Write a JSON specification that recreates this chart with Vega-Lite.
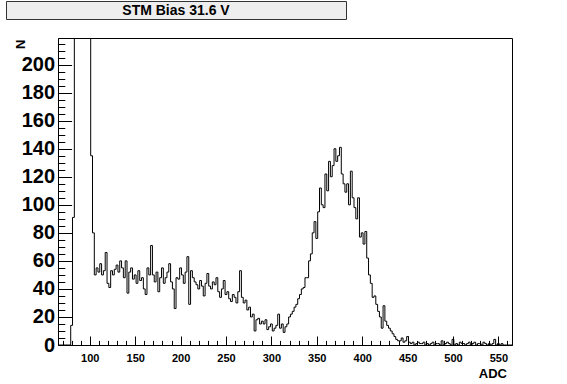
{
"$schema": "https://vega.github.io/schema/vega-lite/v6.json",
"padding": {"left": 5, "top": 0, "right": 0, "bottom": 0},
"background": "white",
"spacing": 12,
"config": {"font": "Liberation Sans"},
"vconcat": [
{
"width": 340, "height": 18,
"view": {"fill": "#eeeeee", "stroke": "#333333", "strokeWidth": 1},
"data": {"values": [{"label": "STM Bias 31.6 V"}]},
"mark": {"type": "text", "font": "Liberation Sans", "fontWeight": "bold", "fontSize": 14, "color": "#000000", "dy": 1},
"encoding": {"text": {"field": "label", "type": "nominal"}}
},
{
"spacing": 0,
"hconcat": [
{
"width": 1, "height": 1,
"view": {"stroke": null},
"data": {"values": [{"label": ""}]},
"mark": {"type": "text"},
"encoding": {"text": {"field": "label", "type": "nominal"}}
},
{
"width": 454, "height": 307,
"view": {"stroke": "#000000", "strokeWidth": 1},
"data": {"values": [
{"adc":65,"n":0},{"adc":67,"n":0},{"adc":69,"n":0},{"adc":71,"n":0},{"adc":73,"n":0},{"adc":75,"n":0},{"adc":77,"n":0},{"adc":79,"n":14},{"adc":81,"n":91},{"adc":83,"n":400},{"adc":85,"n":900},{"adc":87,"n":1200},{"adc":89,"n":1100},{"adc":91,"n":950},{"adc":93,"n":800},{"adc":95,"n":600},{"adc":97,"n":450},{"adc":99,"n":300},{"adc":101,"n":135},{"adc":103,"n":80},
{"adc":105,"n":50},{"adc":107,"n":55},{"adc":109,"n":52},{"adc":111,"n":58},{"adc":113,"n":50},{"adc":115,"n":53},{"adc":117,"n":66},{"adc":119,"n":44},{"adc":121,"n":41},{"adc":123,"n":53},{"adc":125,"n":50},{"adc":127,"n":54},{"adc":129,"n":57},{"adc":131,"n":52},{"adc":133,"n":60},{"adc":135,"n":55},{"adc":137,"n":48},{"adc":139,"n":60},{"adc":141,"n":37},{"adc":143,"n":52},{"adc":145,"n":55},{"adc":147,"n":47},{"adc":149,"n":50},{"adc":151,"n":44},{"adc":153,"n":53},{"adc":155,"n":46},{"adc":157,"n":48},{"adc":159,"n":40},{"adc":161,"n":36},{"adc":163,"n":55},{"adc":165,"n":50},{"adc":167,"n":71},{"adc":169,"n":50},{"adc":171,"n":45},{"adc":173,"n":52},{"adc":175,"n":38},{"adc":177,"n":48},{"adc":179,"n":55},{"adc":181,"n":44},{"adc":183,"n":48},{"adc":185,"n":52},{"adc":187,"n":58},{"adc":189,"n":45},{"adc":191,"n":40},{"adc":193,"n":26},{"adc":195,"n":48},{"adc":197,"n":47},{"adc":199,"n":55},
{"adc":201,"n":50},{"adc":203,"n":44},{"adc":205,"n":52},{"adc":207,"n":63},{"adc":209,"n":29},{"adc":211,"n":53},{"adc":213,"n":48},{"adc":215,"n":45},{"adc":217,"n":43},{"adc":219,"n":40},{"adc":221,"n":46},{"adc":223,"n":42},{"adc":225,"n":35},{"adc":227,"n":44},{"adc":229,"n":51},{"adc":231,"n":42},{"adc":233,"n":40},{"adc":235,"n":45},{"adc":237,"n":43},{"adc":239,"n":48},{"adc":241,"n":38},{"adc":243,"n":34},{"adc":245,"n":40},{"adc":247,"n":46},{"adc":249,"n":36},{"adc":251,"n":38},{"adc":253,"n":33},{"adc":255,"n":31},{"adc":257,"n":36},{"adc":259,"n":34},{"adc":261,"n":30},{"adc":263,"n":38},{"adc":265,"n":53},{"adc":267,"n":34},{"adc":269,"n":30},{"adc":271,"n":32},{"adc":273,"n":25},{"adc":275,"n":27},{"adc":277,"n":20},{"adc":279,"n":22},{"adc":281,"n":10},{"adc":283,"n":18},{"adc":285,"n":19},{"adc":287,"n":15},{"adc":289,"n":17},{"adc":291,"n":15},{"adc":293,"n":18},{"adc":295,"n":11},{"adc":297,"n":13},{"adc":299,"n":15},
{"adc":301,"n":10},{"adc":303,"n":12},{"adc":305,"n":14},{"adc":307,"n":22},{"adc":309,"n":12},{"adc":311,"n":15},{"adc":313,"n":9},{"adc":315,"n":13},{"adc":317,"n":15},{"adc":319,"n":20},{"adc":321,"n":22},{"adc":323,"n":24},{"adc":325,"n":27},{"adc":327,"n":29},{"adc":329,"n":33},{"adc":331,"n":36},{"adc":333,"n":40},{"adc":335,"n":41},{"adc":337,"n":48},{"adc":339,"n":48},{"adc":341,"n":60},{"adc":343,"n":65},{"adc":345,"n":80},{"adc":347,"n":88},{"adc":349,"n":76},{"adc":351,"n":95},{"adc":353,"n":112},{"adc":355,"n":100},{"adc":357,"n":98},{"adc":359,"n":122},{"adc":361,"n":110},{"adc":363,"n":131},{"adc":365,"n":120},{"adc":367,"n":128},{"adc":369,"n":140},{"adc":371,"n":131},{"adc":373,"n":135},{"adc":375,"n":141},{"adc":377,"n":122},{"adc":379,"n":115},{"adc":381,"n":109},{"adc":383,"n":115},{"adc":385,"n":100},{"adc":387,"n":124},{"adc":389,"n":105},{"adc":391,"n":98},{"adc":393,"n":90},{"adc":395,"n":105},{"adc":397,"n":77},{"adc":399,"n":80},
{"adc":401,"n":72},{"adc":403,"n":81},{"adc":405,"n":62},{"adc":407,"n":50},{"adc":409,"n":44},{"adc":411,"n":34},{"adc":413,"n":35},{"adc":415,"n":29},{"adc":417,"n":24},{"adc":419,"n":20},{"adc":421,"n":12},{"adc":423,"n":28},{"adc":425,"n":17},{"adc":427,"n":14},{"adc":429,"n":12},{"adc":431,"n":10},{"adc":433,"n":8},{"adc":435,"n":6},{"adc":437,"n":4},{"adc":439,"n":3},{"adc":441,"n":3},{"adc":443,"n":5},{"adc":445,"n":2},{"adc":447,"n":3},{"adc":449,"n":6},{"adc":451,"n":2},{"adc":453,"n":1},{"adc":455,"n":2},{"adc":457,"n":0},{"adc":459,"n":1},{"adc":461,"n":2},{"adc":463,"n":1},{"adc":465,"n":1},{"adc":467,"n":2},{"adc":469,"n":0},{"adc":471,"n":1},{"adc":473,"n":0},{"adc":475,"n":1},{"adc":477,"n":2},{"adc":479,"n":0},{"adc":481,"n":1},{"adc":483,"n":1},{"adc":485,"n":0},{"adc":487,"n":3},{"adc":489,"n":0},{"adc":491,"n":1},{"adc":493,"n":2},{"adc":495,"n":1},{"adc":497,"n":0},{"adc":499,"n":4},
{"adc":501,"n":0},{"adc":503,"n":1},{"adc":505,"n":0},{"adc":507,"n":2},{"adc":509,"n":1},{"adc":511,"n":1},{"adc":513,"n":0},{"adc":515,"n":1},{"adc":517,"n":2},{"adc":519,"n":0},{"adc":521,"n":1},{"adc":523,"n":2},{"adc":525,"n":0},{"adc":527,"n":1},{"adc":529,"n":1},{"adc":531,"n":0},{"adc":533,"n":2},{"adc":535,"n":1},{"adc":537,"n":0},{"adc":539,"n":1},{"adc":541,"n":0},{"adc":543,"n":1},{"adc":545,"n":4},{"adc":547,"n":0},{"adc":549,"n":1},{"adc":551,"n":0},{"adc":553,"n":1},{"adc":555,"n":0},{"adc":557,"n":0},{"adc":559,"n":0},{"adc":561,"n":0},{"adc":563,"n":0},{"adc":565,"n":0}
]},
"resolve": {"axis": {"x": "independent", "y": "independent"}},
"layer": [
{
"mark": {"type": "line", "interpolate": "step-after", "clip": true, "color": "#000000", "strokeWidth": 1},
"encoding": {
"x": {"field": "adc", "type": "quantitative",
 "scale": {"domain": [65, 565], "nice": false, "zero": false},
 "axis": {"orient": "bottom", "values": [100,150,200,250,300,350,400,450,500,550], "grid": false,
  "tickSize": -9, "tickColor": "#000000", "tickWidth": 1, "domainColor": "#000000",
  "labelFont": "Liberation Sans", "labelFontWeight": "bold", "labelFontSize": 11, "labelColor": "#000000",
  "labelPadding": 16, "labelFlush": false, "labelOverlap": false,
  "title": "ADC", "titleFont": "Liberation Sans", "titleFontWeight": "bold", "titleFontSize": 13, "titleColor": "#000000",
  "titleAlign": "right", "titleBaseline": "alphabetic", "titleX": 448.5, "titleY": 32}},
"y": {"field": "n", "type": "quantitative",
 "scale": {"domain": [0, 219], "nice": false, "zero": true},
 "axis": {"orient": "left", "values": [0,20,40,60,80,100,120,140,160,180,200], "grid": false,
  "tickSize": -13.6, "tickColor": "#000000", "tickWidth": 1, "domainColor": "#000000",
  "labelFont": "Liberation Sans", "labelFontWeight": "bold", "labelFontSize": 20, "labelColor": "#000000",
  "labelPadding": 17, "labelOverlap": false, "labelFlush": false,
  "title": "N", "titleFont": "Liberation Sans", "titleFontWeight": "bold", "titleFontSize": 13, "titleColor": "#000000",
  "titleAngle": 270, "titleAlign": "right", "titleBaseline": "middle", "titleX": -37.5, "titleY": 1}}
}
},
{
"mark": {"type": "line", "interpolate": "step-after", "clip": true, "strokeOpacity": 0},
"encoding": {
"x": {"field": "adc", "type": "quantitative",
 "axis": {"orient": "bottom", "values": [70,80,90,110,120,130,140,160,170,180,190,210,220,230,240,260,270,280,290,310,320,330,340,360,370,380,390,410,420,430,440,460,470,480,490,510,520,530,540,560],
  "grid": false, "domain": false, "labels": false, "tickSize": -4.6, "tickColor": "#000000", "tickWidth": 1, "title": null}},
"y": {"field": "n", "type": "quantitative",
 "axis": {"orient": "left", "values": [5,10,15,25,30,35,45,50,55,65,70,75,85,90,95,105,110,115,125,130,135,145,150,155,165,170,175,185,190,195,205,210,215],
  "grid": false, "domain": false, "labels": false, "tickSize": -6.8, "tickColor": "#000000", "tickWidth": 1,
  "title": "N", "titleOpacity": 0, "titleFontSize": 13, "titleAngle": 270, "titleAlign": "right", "titleBaseline": "middle", "titleX": -44, "titleY": 1}}
}
}
]
}
]
}
]
}
